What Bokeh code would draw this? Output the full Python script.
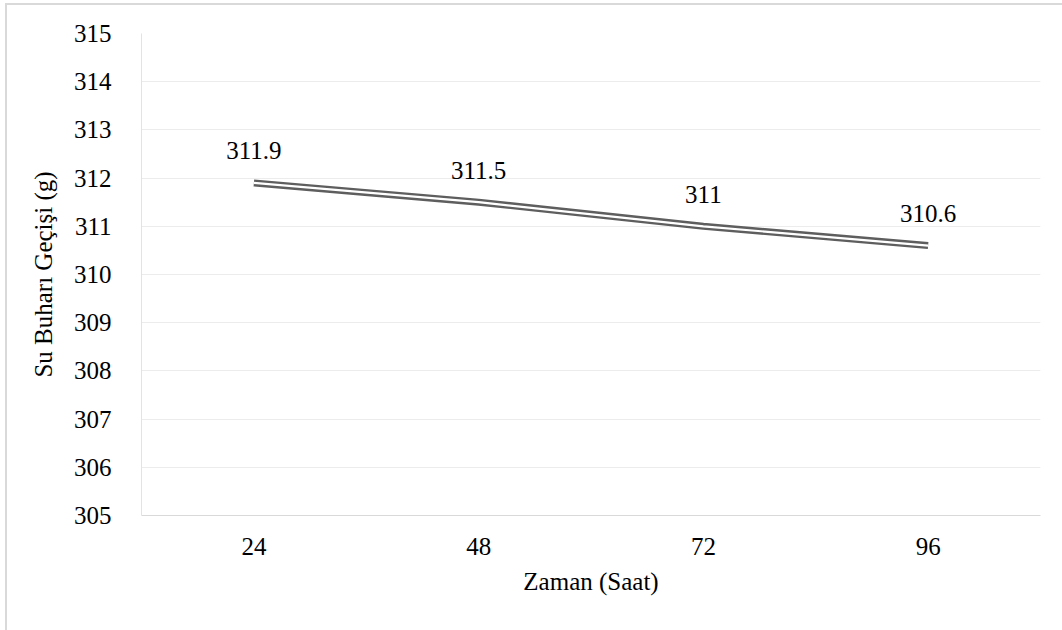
from bokeh.plotting import figure
from bokeh.models import ColumnDataSource, FixedTicker, Range1d, FactorRange
from bokeh.core.properties import value
from bokeh.embed import file_html
from bokeh.resources import INLINE

hours = ["24", "48", "72", "96"]
vapor = [311.9, 311.5, 311.0, 310.6]
y_ticks = list(range(305, 316))
y_title = "Su Buharı Geçişi (g)"
x_title = "Zaman (Saat)"

src = ColumnDataSource(dict(x=hours, y=vapor, label=[f"{v:g}" for v in vapor]))

FONT = "'Liberation Serif', serif"
FS = "25px"

p = figure(x_range=FactorRange(*hours, range_padding=0),
           y_range=Range1d(305, 315),
           width=1062, height=630,
           output_backend="svg", toolbar_location=None,
           min_border_left=141, min_border_top=33,
           min_border_right=22, min_border_bottom=115,
           styles={"background": "white",
                   "box-shadow": "inset 5px 3px 0 0 white, inset 7px 5px 0 0 #d9d9d9"})
p.outline_line_color = None
p.background_fill_color = "white"
p.border_fill_alpha = 0

p.line("x", "y", source=src, line_width=7, line_color="#5e5e5e")
p.line("x", "y", source=src, line_width=2.2, line_color="white")

p.text(x="x", y="y", text="label", source=src, text_align="center",
       text_baseline="middle", y_offset=-32,
       text_font=value(FONT), text_font_size=FS, text_color="#000000")

p.xgrid.grid_line_color = None
p.ygrid.grid_line_color = "#ececec"
p.ygrid.grid_line_width = 1

p.yaxis.ticker = FixedTicker(ticks=y_ticks)
for ax in (p.xaxis[0], p.yaxis[0]):
    ax.major_tick_line_color = None
    ax.minor_tick_line_color = None
    ax.major_label_text_font = FONT
    ax.major_label_text_font_size = FS
    ax.major_label_text_color = "#000000"
    ax.axis_label_text_font = FONT
    ax.axis_label_text_font_size = FS
    ax.axis_label_text_font_style = "normal"
    ax.axis_label_text_color = "#000000"

p.xaxis.axis_line_color = "#d9d9d9"
p.yaxis.axis_line_color = "#e3e3e3"
p.xaxis.axis_label = x_title
p.yaxis.axis_label = y_title
p.xaxis.major_label_standoff = 16
p.xaxis.axis_label_standoff = 10
p.yaxis.major_label_standoff = 24
p.yaxis.axis_label_standoff = 14

open("out.html", "w").write(file_html(p, INLINE))
